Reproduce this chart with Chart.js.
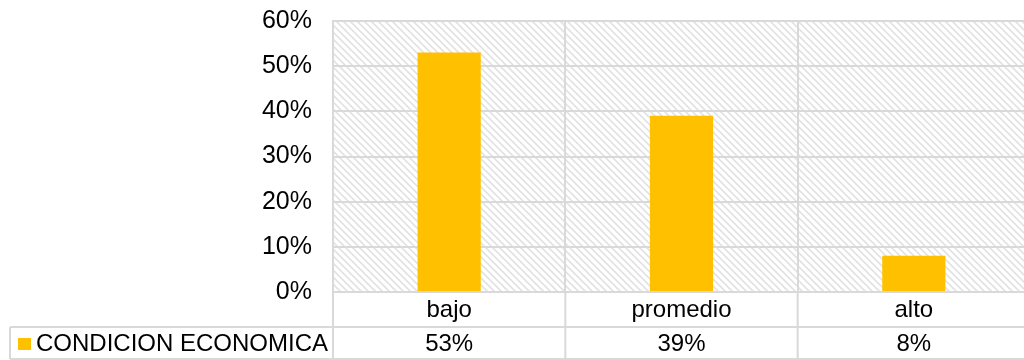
<!DOCTYPE html>
<html>
<head>
<meta charset="utf-8">
<script src="https://cdn.jsdelivr.net/npm/chart.js@4"></script>
<style>
  html, body { margin: 0; padding: 0; background: #fff; overflow: hidden; }
  #chart { display: block; }
</style>
</head>
<body>
<canvas id="chart" width="1030" height="360"></canvas>
<script>
const categories = ['bajo', 'promedio', 'alto'];
const seriesName = 'CONDICION ECONOMICA';
const values = [53, 39, 8];
const tableLabels = values.map((v) => `${v}%`);

const barColor = '#ffc000';
const lineColor = '#d9d9d9';
const textColor = '#000';
const fontFamily = '"Liberation Sans", Arial, sans-serif';

// diagonal hatch for the plot background
function makeHatch() {
  const size = 7;
  const tile = document.createElement('canvas');
  tile.width = size;
  tile.height = size;
  const ctx = tile.getContext('2d');
  ctx.fillStyle = '#fff';
  ctx.fillRect(0, 0, size, size);
  ctx.strokeStyle = '#e2e2e2';
  ctx.lineWidth = 1.6;
  ctx.beginPath();
  ctx.moveTo(-1, -1); ctx.lineTo(size + 1, size + 1);
  ctx.moveTo(size - 1, -1); ctx.lineTo(size + 1, 1);
  ctx.moveTo(-1, size - 1); ctx.lineTo(1, size + 1);
  ctx.stroke();
  return ctx.createPattern(tile, 'repeat');
}

const hatchBackground = {
  id: 'hatchBackground',
  beforeDraw(chart) {
    const { ctx, chartArea: a } = chart;
    ctx.save();
    ctx.fillStyle = makeHatch();
    ctx.fillRect(a.left, a.top, a.right - a.left, a.bottom - a.top);
    ctx.restore();
  },
};

// data table under the x axis: category row, then the series row with its key
const dataTable = {
  id: 'dataTable',
  afterDraw(chart) {
    const { ctx, chartArea: a } = chart;
    const x = chart.scales.x;
    const colW = (a.right - a.left) / categories.length;
    const row1 = a.bottom;
    const row2 = row1 + 35;
    const row3 = chart.height - 1;
    const keyLeft = 10;

    ctx.save();
    ctx.strokeStyle = lineColor;
    ctx.lineWidth = 2;
    ctx.beginPath();
    ctx.moveTo(keyLeft, row2); ctx.lineTo(chart.width, row2);
    ctx.moveTo(keyLeft, row3); ctx.lineTo(chart.width, row3);
    ctx.moveTo(keyLeft, row2); ctx.lineTo(keyLeft, row3);
    for (let i = 0; i <= categories.length; i++) {
      const lx = a.left + i * colW;
      ctx.moveTo(lx, row1); ctx.lineTo(lx, row3);
    }
    ctx.stroke();

    ctx.fillStyle = textColor;
    ctx.font = `24px ${fontFamily}`;
    ctx.textAlign = 'center';
    ctx.textBaseline = 'middle';
    categories.forEach((c, i) => {
      const cx = x.getPixelForValue(i);
      ctx.fillText(c, cx, (row1 + row2) / 2 + 1);
      ctx.fillText(tableLabels[i], cx, (row2 + row3) / 2 + 1);
    });

    ctx.fillStyle = barColor;
    ctx.fillRect(18, 338, 13, 12);
    ctx.fillStyle = textColor;
    ctx.textAlign = 'left';
    ctx.fillText(seriesName, 36, (row2 + row3) / 2 + 1);
    ctx.restore();
  },
};

new Chart(document.getElementById('chart'), {
  type: 'bar',
  data: {
    labels: categories,
    datasets: [{
      label: seriesName,
      data: values,
      backgroundColor: barColor,
      categoryPercentage: 1,
      barPercentage: 0.272,
    }],
  },
  options: {
    responsive: false,
    animation: false,
    layout: { padding: { top: 21, right: 0, bottom: 68, left: 0 } },
    plugins: {
      legend: { display: false },
      tooltip: { enabled: false },
    },
    scales: {
      x: {
        ticks: { display: false },
        grid: { color: lineColor, lineWidth: 2, drawTicks: false, offset: true },
        border: { color: lineColor, width: 2 },
      },
      y: {
        min: 0,
        max: 60,
        ticks: {
          stepSize: 10,
          color: textColor,
          padding: 21,
          font: { family: fontFamily, size: 25 },
          callback: (v) => `${v}%`,
        },
        grid: { color: lineColor, lineWidth: 2, drawTicks: false },
        border: { color: lineColor, width: 2 },
        afterFit(scale) {
          scale.width = 333;
          scale.paddingTop = 0;
          scale.paddingBottom = 0;
        },
      },
    },
  },
  plugins: [hatchBackground, dataTable],
});
</script>
</body>
</html>
